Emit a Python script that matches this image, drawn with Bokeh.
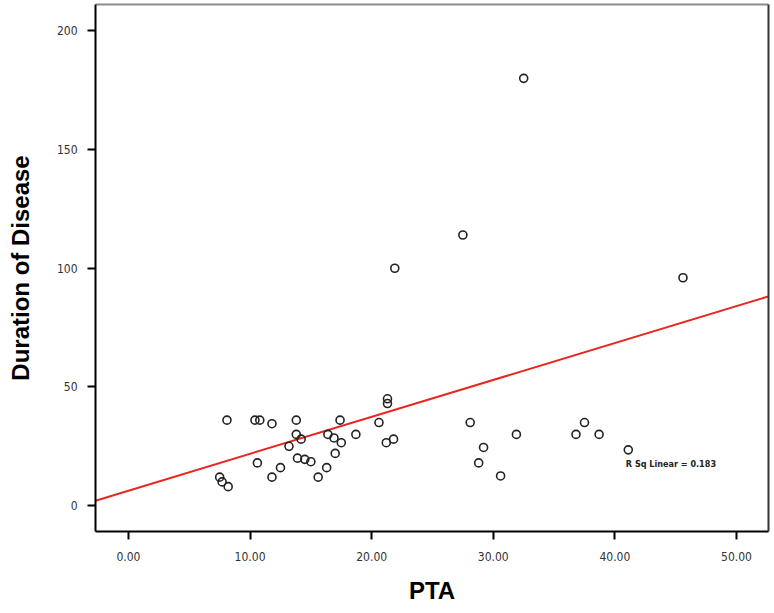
from bokeh.plotting import figure
from bokeh.models import Range1d, FixedTicker, Label, CustomJSTickFormatter, LinearAxis
from bokeh.embed import file_html
from bokeh.resources import INLINE

# Data
pta = [8.1, 10.4, 10.8, 11.8, 13.8, 13.8, 13.2, 14.2, 10.6, 12.5, 11.8, 13.9, 14.5, 15.0,
       7.5, 7.7, 8.2, 17.4, 16.4, 16.9, 17.5, 17.0, 16.3, 15.6, 18.7, 20.6, 21.3, 21.3,
       21.2, 21.8, 28.1, 29.2, 28.8, 30.6, 31.9, 37.5, 36.8, 38.7, 41.1, 21.9, 27.5, 32.5, 45.6]
duration = [36, 36, 36, 34.5, 36, 30, 25, 28, 18, 16, 12, 20, 19.5, 18.5,
            12, 10, 8, 36, 30, 28.5, 26.5, 22, 16, 12, 30, 35, 45, 43,
            26.5, 28, 35, 24.5, 18, 12.5, 30, 35, 30, 30, 23.5, 100, 114, 180, 96]

fit_intercept = 6.3
fit_slope = 1.555
r_sq_text = "R Sq Linear = 0.183"

x_ticks = [0, 10, 20, 30, 40, 50]
y_ticks = [0, 50, 100, 150, 200]

x_lo, x_hi = -2.71, 52.63
y_lo, y_hi = -10.9, 211.1

p = figure(width=774, height=610, output_backend="svg", toolbar_location=None,
           x_range=Range1d(x_lo, x_hi), y_range=Range1d(y_lo, y_hi),
           x_axis_location=None, y_axis_location=None,
           min_border_left=95, min_border_right=6, min_border_top=4, min_border_bottom=79)

p.background_fill_color = "white"
p.border_fill_color = "white"
p.xgrid.visible = False
p.ygrid.visible = False
p.outline_line_color = None

# border lines on top and right (no ticks, no labels)
top_ax = LinearAxis(ticker=FixedTicker(ticks=[]), axis_line_color="#8a8a8a", axis_line_width=2,
                    major_tick_line_color=None, minor_tick_line_color=None,
                    major_label_text_color=None)
right_ax = LinearAxis(ticker=FixedTicker(ticks=[]), axis_line_color="#333333", axis_line_width=2,
                      major_tick_line_color=None, minor_tick_line_color=None,
                      major_label_text_color=None)
p.add_layout(top_ax, "above")
p.add_layout(right_ax, "right")

x_axis = LinearAxis(ticker=FixedTicker(ticks=x_ticks),
                    formatter=CustomJSTickFormatter(code="return tick.toFixed(2);"),
                    axis_label="PTA")
y_axis = LinearAxis(ticker=FixedTicker(ticks=y_ticks), axis_label="Duration of Disease")
p.add_layout(x_axis, "below")
p.add_layout(y_axis, "left")

for ax in (x_axis, y_axis):
    ax.axis_line_color = "black"
    ax.axis_line_width = 2
    ax.major_tick_line_color = "black"
    ax.major_tick_line_width = 2
    ax.major_tick_out = 8
    ax.major_tick_in = 0
    ax.minor_tick_line_color = None
    ax.major_label_text_font = "DejaVu Sans Condensed"
    ax.major_label_text_font_size = "12px"
    ax.major_label_text_color = "#333333"
    ax.axis_label_text_font = "Liberation Sans"
    ax.axis_label_text_font_style = "bold"
    ax.axis_label_text_font_size = "24px"
    ax.axis_label_text_color = "black"

x_axis.major_label_standoff = 12
x_axis.axis_label_standoff = 13
y_axis.major_label_standoff = 10
y_axis.axis_label_standoff = 20

# regression line
fx = [x_lo, x_hi]
fy = [fit_intercept + fit_slope * v for v in fx]
p.line(fx, fy, line_color="#e8261f", line_width=2)

# points
p.scatter(pta, duration, marker="circle", size=8, fill_color=None,
          line_color="#222222", line_width=1.6)

lbl = Label(x=40.9, y=17.7, text=r_sq_text, text_font="DejaVu Sans Condensed",
            text_font_size="9px", text_font_style="bold", text_color="#222222",
            text_baseline="middle")
p.add_layout(lbl)

open("out.html", "w").write(file_html(p, INLINE))
